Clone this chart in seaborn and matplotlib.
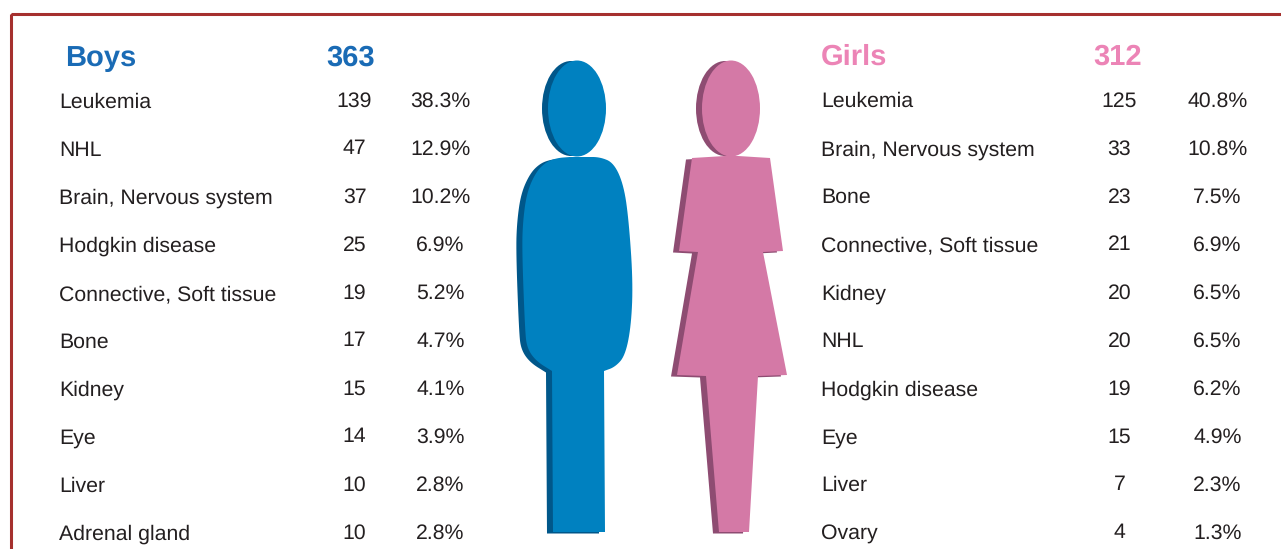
import matplotlib
matplotlib.use('Agg')
import matplotlib.pyplot as plt
from matplotlib.patches import Ellipse, Polygon, Rectangle
import pandas as pd
import seaborn as sns

boys_total = 363
boys_sites = ['Leukemia', 'NHL', 'Brain, Nervous system', 'Hodgkin disease', 'Connective, Soft tissue',
              'Bone', 'Kidney', 'Eye', 'Liver', 'Adrenal gland']
boys_counts = [139, 47, 37, 25, 19, 17, 15, 14, 10, 10]
boys_pct = ['38.3%', '12.9%', '10.2%', '6.9%', '5.2%', '4.7%', '4.1%', '3.9%', '2.8%', '2.8%']

girls_total = 312
girls_sites = ['Leukemia', 'Brain, Nervous system', 'Bone', 'Connective, Soft tissue', 'Kidney',
               'NHL', 'Hodgkin disease', 'Eye', 'Liver', 'Ovary']
girls_counts = [125, 33, 23, 21, 20, 20, 19, 15, 7, 4]
girls_pct = ['40.8%', '10.8%', '7.5%', '6.9%', '6.5%', '6.5%', '6.2%', '4.9%', '2.3%', '1.3%']

sns.set_theme(style='white')
plt.rcParams['font.family'] = ['Liberation Sans', 'DejaVu Sans']
plt.rcParams['text.hinting'] = 'none'

BLUE, BLUE_DARK = '#0081c0', '#00578a'
PINK, PINK_DARK = '#d479a6', '#8e4c72'
TEXT = '#231f20'


def smooth(points, rounds=3):
    # corner cutting, keeps first and last point
    for _ in range(rounds):
        out = [points[0]]
        for (x0, y0), (x1, y1) in zip(points[:-1], points[1:]):
            out.append((0.75 * x0 + 0.25 * x1, 0.75 * y0 + 0.25 * y1))
            out.append((0.25 * x0 + 0.75 * x1, 0.25 * y0 + 0.75 * y1))
        out.append(points[-1])
        points = out
    return points


boy_right = [(570, 157), (585, 157), (600, 157), (614, 163), (624, 186), (629, 223), (633, 283), (631, 327),
             (625, 356), (615, 367), (604, 371)]
boy_left = [(552, 371), (536, 361), (527, 348), (525, 330), (522, 250), (523, 220), (527, 192), (536, 172),
            (546, 162), (557, 158), (570, 157)]
boy_body = smooth(boy_right) + [(605, 532), (553, 532)] + smooth(boy_left)
girl_body = [(692, 158), (725, 156), (738, 156), (770, 158), (783, 251), (763, 252), (787, 375), (758, 376),
             (749, 532), (719, 532), (706, 376), (677, 375), (698, 252), (679, 251)]

fig = plt.figure(figsize=(12.81, 5.49), dpi=100)
ax = fig.add_axes([0, 0, 1, 1])
ax.set_xlim(0, 1281)
ax.set_ylim(549, 0)
ax.axis('off')
sns.despine(ax=ax, left=True, bottom=True)

# red frame, runs off the right and bottom edges
ax.add_patch(Rectangle((11, 13.5), 1300, 600, fill=False, edgecolor='#a5302e', lw=2.2))


def draw_person(body, head_x, front, dark):
    ax.add_patch(Ellipse((head_x - 6, 108.5), 58, 95, color=dark, lw=0))
    ax.add_patch(Polygon([(x - 6, y + 1.5) for x, y in body], closed=True, color=dark, lw=0))
    ax.add_patch(Ellipse((head_x, 108.5), 58, 96, color=front, lw=0))
    ax.add_patch(Polygon(body, closed=True, color=front, lw=0))


def draw_table(df, x_name, x_count, x_pct, y_first, name_shift):
    for i, row in df.iterrows():
        y = y_first + i * 48
        ax.text(x_name, y + name_shift, row['site'], fontsize=15.35, color=TEXT, va='center')
        ax.text(x_count, y + 1, str(row['count']), fontsize=15.35, color=TEXT, va='center', ha='center')
        ax.text(x_pct, y + 1, row['pct'], fontsize=15.35, color=TEXT, va='center', ha='center')


draw_person(boy_body, 577, BLUE, BLUE_DARK)
draw_person(girl_body, 731, PINK, PINK_DARK)

boys = pd.DataFrame({'site': boys_sites, 'count': boys_counts, 'pct': boys_pct})
girls = pd.DataFrame({'site': girls_sites, 'count': girls_counts, 'pct': girls_pct})
draw_table(boys, 59, 354.5, 440.5, 100, 2.5)
draw_table(girls, 821, 1119.5, 1217.5, 100, 1.8)

ax.text(65, 58, 'Boys', fontsize=21, fontweight='bold', color='#1a6bb5', va='center')
ax.text(350.5, 58, str(boys_total), fontsize=21, fontweight='bold', color='#1a6bb5', va='center', ha='center')
ax.text(821, 57.5, 'Girls', fontsize=21, fontweight='bold', color='#ec84b6', va='center')
ax.text(1117.5, 57.5, str(girls_total), fontsize=21, fontweight='bold', color='#ec84b6', va='center', ha='center')

fig.savefig('out.png', dpi=100)
